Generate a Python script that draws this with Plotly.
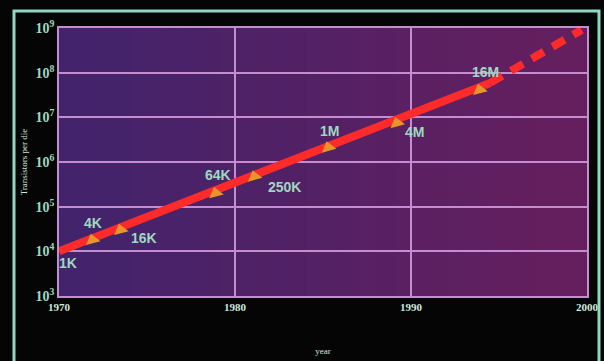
import numpy as np
import plotly.graph_objects as go

# memory generations: year of introduction, transistors per die, label
years = [1970, 1971.9, 1973.5, 1978.9, 1981.1, 1985.3, 1989.2, 1993.9]
transistors = [1.0e4, 1.8e4, 3.0e4, 2.0e5, 4.7e5, 2.1e6, 7.4e6, 4.1e7]
labels = ["1K", "4K", "16K", "64K", "250K", "1M", "4M", "16M"]

# trend line, solid part then projection
trend_years = [1970, 1994.5]
trend_vals = [1.0e4, 5.9e7]
proj_years = [1994.5, 1999.7]
proj_vals = [5.9e7, 9.1e8]

ytick_vals = [1e3, 1e4, 1e5, 1e6, 1e7, 1e8, 1e9]
ytick_text = ["10<sup>3</sup>", "10<sup>4</sup>", "10<sup>5</sup>", "10<sup>6</sup>",
              "10<sup>7</sup>", "10<sup>8</sup>", "10<sup>9</sup>"]
xtick_vals = [1970, 1980, 1990, 2000]

# label offsets in px (dx, dy up)
offsets = [(9, -12), (1, 17), (23, -8), (2, 18), (30, -10), (1, 17), (18, -9), (6, 18)]

TEAL = "#9ed8c0"
GRID = "#c58ccf"

fig = go.Figure()

fig.add_trace(go.Scatter(x=trend_years, y=trend_vals, mode="lines",
                         line=dict(color="#ff2b2b", width=8), hoverinfo="skip"))
fig.add_trace(go.Scatter(x=proj_years, y=proj_vals, mode="lines",
                         line=dict(color="#ff2b2b", width=8, dash="14px,10px"),
                         hoverinfo="skip"))
fig.add_trace(go.Scatter(x=years[1:], y=transistors[1:], mode="markers",
                         marker=dict(symbol="triangle-up", size=13, color="#e8962c",
                                     angle=-15, line=dict(width=0)),
                         hoverinfo="skip"))

for yr, val, lab, (dx, dy) in zip(years, transistors, labels, offsets):
    fig.add_annotation(x=yr, y=np.log10(val), text=lab, showarrow=False,
                       xshift=dx, yshift=dy,
                       font=dict(family="Liberation Sans", size=14, color=TEAL, weight="bold"))

# background gradient as stripes
n = 30
c0 = np.array([0x42, 0x24, 0x6c])
c1 = np.array([0x66, 0x1f, 0x5e])
for i in range(n):
    c = c0 + (c1 - c0) * i / (n - 1)
    fig.add_shape(type="rect", xref="x domain", yref="y domain",
                  x0=i / n, x1=(i + 1) / n + 0.002, y0=0, y1=1,
                  fillcolor="rgb(%d,%d,%d)" % tuple(c), line=dict(width=0), layer="below")

# outer teal frame
fig.add_shape(type="rect", xref="paper", yref="paper",
              x0=-45 / 528, x1=1 + 12 / 528, y0=-1.3, y1=1 + 17 / 268,
              line=dict(color="#8fd8c4", width=3), fillcolor="rgba(0,0,0,0)")

fig.update_layout(
    width=604, height=361,
    margin=dict(l=59, r=17, t=28, b=65),
    paper_bgcolor="#050505",
    plot_bgcolor="#50235f",
    showlegend=False,
)
fig.update_xaxes(range=[1970, 2000], tickvals=xtick_vals, automargin=False,
                 showgrid=True, gridcolor=GRID, gridwidth=1.5,
                 showline=True, linecolor=GRID, linewidth=1.5, mirror=True,
                 zeroline=False, ticks="",
                 tickfont=dict(family="Liberation Serif", size=11, color="#cfe8dc", weight="bold"),
                 title=dict(text="year", standoff=36,
                            font=dict(family="Liberation Serif", size=9, color="#cfe8dc")))
fig.update_yaxes(type="log", range=[3, 9], tickvals=ytick_vals, ticktext=ytick_text,
                 automargin=False,
                 showgrid=True, gridcolor=GRID, gridwidth=1.5,
                 showline=True, linecolor=GRID, linewidth=1.5, mirror=True,
                 zeroline=False, ticks="", ticklabelstandoff=0,
                 tickfont=dict(family="Liberation Serif", size=14, color=TEAL, weight="bold"),
                 title=dict(text="Transistors per die", standoff=6,
                            font=dict(family="Liberation Serif", size=9, color="#cfe8dc")))

# drop the page's default body margin so the figure sits at the window corner
fig.write_html("out.html", config={"displayModeBar": False},
               post_script="document.body.style.margin='0';"
                           "document.body.style.background='#050505';")
